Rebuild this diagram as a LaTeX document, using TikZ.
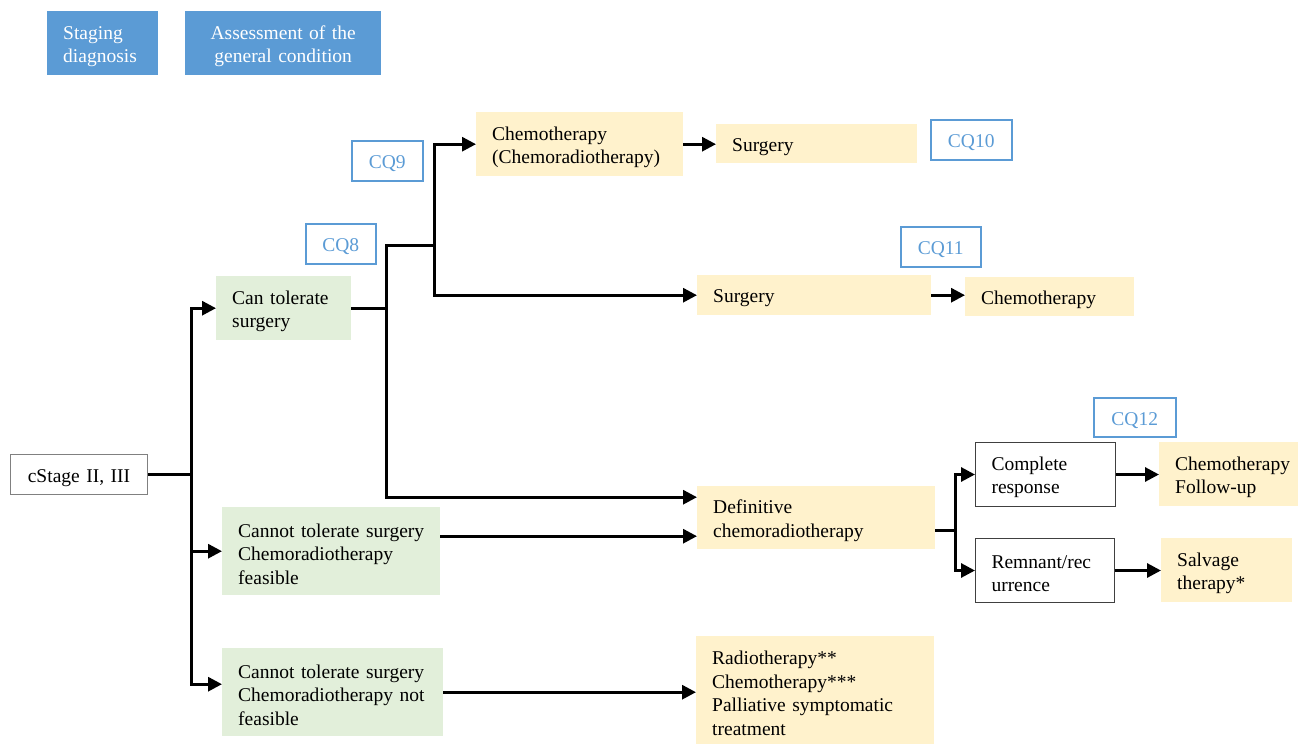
\documentclass[tikz,border=0pt]{standalone}
\usepackage{fontspec}
\setmainfont{Liberation Serif}
\usetikzlibrary{arrows.meta}
\definecolor{bluefill}{HTML}{5B9BD5}
\definecolor{greenfill}{HTML}{E2EFDA}
\definecolor{yellowfill}{HTML}{FFF2CC}
\definecolor{cqblue}{HTML}{5B9BD5}
\newcommand\fs{\fontsize{19.5pt}{23.5pt}\selectfont}
\newcommand\topstrut{\rule{0pt}{19.5pt}}
\tikzset{
  x=1pt, y=-1pt,
  box/.style={anchor=north west, inner xsep=16pt, inner ysep=0pt, align=left, font=\fs, rectangle},
  bluebox/.style={box, fill=bluefill, text=white},
  greenbox/.style={box, fill=greenfill},
  yellowbox/.style={box, fill=yellowfill},
  whitebox/.style={box, draw=black!75, line width=1pt, fill=white},
  stagebox/.style={box, draw=black!50, line width=1pt, align=center},
  cqbox/.style={box, draw=cqblue, line width=1.5pt, text=cqblue, align=center, inner xsep=2pt},
  conn/.style={line width=3pt, black},
  arr/.style={conn, -{Triangle[length=14pt,width=14pt]}},
}
\begin{document}
\begin{tikzpicture}
\useasboundingbox (0,0) rectangle (1298,744);
% header boxes
\node[bluebox, minimum width=111pt, minimum height=64pt, text width=79pt] (stag) at (47,11) {\topstrut Staging\\diagnosis};
\node[bluebox, minimum width=196pt, minimum height=64pt, text width=164pt, align=center] (assess) at (185,11) {\topstrut Assessment of the\\general condition};
% start
\node[stagebox, minimum width=137pt, minimum height=40pt, text width=105pt] (stage) at (10,454) {\topstrut cStage II, III};
% green boxes
\node[greenbox, minimum width=135pt, minimum height=64pt, text width=103pt] (can) at (216,276) {\topstrut Can tolerate\\surgery};
\node[greenbox, minimum width=218pt, minimum height=88pt, text width=186pt] (feas) at (222,507) {\topstrut Cannot tolerate surgery\\Chemoradiotherapy\\feasible};
\node[greenbox, minimum width=221pt, minimum height=88pt, text width=189pt] (nf) at (222,648) {\topstrut Cannot tolerate surgery\\Chemoradiotherapy not\\feasible};
% yellow boxes
\node[yellowbox, minimum width=207pt, minimum height=64pt, text width=175pt] (chemo) at (476,112) {\topstrut Chemotherapy\\(Chemoradiotherapy)};
\node[yellowbox, minimum width=201pt, minimum height=39pt, text width=169pt] (surg1) at (716,124) {\topstrut Surgery};
\node[yellowbox, minimum width=234pt, minimum height=40pt, text width=202pt] (surg2) at (697,275) {\topstrut Surgery};
\node[yellowbox, minimum width=169pt, minimum height=39pt, text width=137pt] (chemo2) at (965,277) {\topstrut Chemotherapy};
\node[yellowbox, minimum width=238pt, minimum height=63pt, text width=206pt] (defin) at (697,486) {\topstrut Definitive\\chemoradiotherapy};
\node[yellowbox, minimum width=139pt, minimum height=64pt, text width=107pt] (chfu) at (1159,442) {\topstrut Chemotherapy\\Follow-up};
\node[yellowbox, minimum width=131pt, minimum height=64pt, text width=99pt] (salv) at (1161,538) {\topstrut Salvage\\therapy*};
\node[yellowbox, minimum width=238pt, minimum height=108pt, text width=206pt] (rad) at (696,636) {\topstrut Radiotherapy**\\Chemotherapy***\\Palliative symptomatic\\treatment};
% white boxes
\node[whitebox, minimum width=140pt, minimum height=64pt, text width=108pt] (comp) at (975,442) {\topstrut Complete\\response};
\node[whitebox, minimum width=139pt, minimum height=64pt, text width=107pt] (rem) at (975,538) {\topstrut Remnant/rec\\urrence};
% CQ boxes
\node[cqbox, minimum width=71pt, minimum height=40pt, text width=67pt] (cq9) at (351,140) {\topstrut CQ9};
\node[cqbox, minimum width=70pt, minimum height=40pt, text width=66pt] (cq8) at (305,223) {\topstrut CQ8};
\node[cqbox, minimum width=81pt, minimum height=40pt, text width=77pt] (cq10) at (930,119) {\topstrut CQ10};
\node[cqbox, minimum width=80pt, minimum height=40pt, text width=76pt] (cq11) at (900,226) {\topstrut CQ11};
\node[cqbox, minimum width=82pt, minimum height=39pt, text width=78pt] (cq12) at (1093,397) {\topstrut CQ12};
% junctions
\coordinate (j1) at ([xshift=43pt]stage.east);
\coordinate (j2) at ([xshift=35pt]can.east);
\coordinate (j3) at (434,245);
\coordinate (j4) at (955,530);
% connectors
\draw[conn] (stage.east) -- (j1);
\draw[arr] (j1) |- (can.west);
\draw[arr] (j1) |- (feas.west);
\draw[arr] (j1) |- ([yshift=8pt]nf.west);
\draw[conn] (can.east) -- (j2);
\draw[conn] (j2) |- (j3);
\draw[arr] (j3) |- (chemo.west);
\draw[arr] (j3) |- (surg2.west);
\draw[arr] (j2) |- ([yshift=20.5pt]defin.west);
\draw[arr] (chemo.east) -- (chemo.east -| surg1.west);
\draw[arr] (surg2.east) -- (surg2.east -| chemo2.west);
\draw[arr] ([yshift=15pt]feas.east) -- ([yshift=15pt]feas.east -| defin.west);
\draw[arr] (nf.east) -- (nf.east -| rad.west);
\draw[conn] (defin.east |- j4) -- (j4);
\draw[arr] (j4) |- (comp.west);
\draw[arr] (j4) |- (rem.west);
\draw[arr] (comp.east) -- (comp.east -| chfu.west);
\draw[arr] (rem.east) -- (rem.east -| salv.west);
\end{tikzpicture}
\end{document}
